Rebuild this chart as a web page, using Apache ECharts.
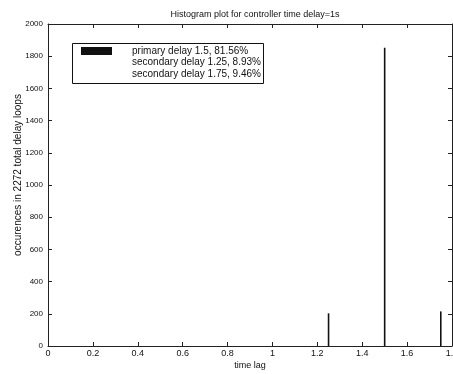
<!DOCTYPE html>
<html>
<head>
<meta charset="utf-8">
<script src="https://cdn.jsdelivr.net/npm/echarts@6/dist/echarts.min.js"></script>
<style>
  html, body { margin: 0; padding: 0; background: #fff; }
  #chart { width: 453px; height: 374px; }
</style>
</head>
<body>
<div id="chart"></div>
<script>
// Delay loop histogram: time lag (s) vs. number of occurrences
var timeLags = [1.25, 1.5, 1.75];
var occurrences = [203, 1853, 215];
var xTicks = [0, 0.2, 0.4, 0.6, 0.8, 1, 1.2, 1.4, 1.6, 1.8];
var yTicks = [0, 200, 400, 600, 800, 1000, 1200, 1400, 1600, 1800, 2000];
var legendLines = [
  'primary delay 1.5, 81.56%',
  'secondary delay 1.25, 8.93%',
  'secondary delay 1.75, 9.46%'
];

var FONT = '"Liberation Sans", Arial, Helvetica, sans-serif';
var chart = echarts.init(document.getElementById('chart'));

function plain(v) { return String(v); }

function xAxisDef(pos, showLabels) {
  return {
    type: 'value', position: pos,
    min: xTicks[0], max: xTicks[xTicks.length - 1], interval: 0.2,
    name: showLabels ? 'time lag' : '', nameLocation: 'middle', nameGap: 15,
    nameMoveOverlap: false,
    nameTextStyle: { fontFamily: FONT, fontSize: 9, color: '#111' },
    axisLine: { show: true, onZero: false, lineStyle: { color: '#222', width: 1 } },
    axisTick: { show: true, inside: true, length: 4, lineStyle: { color: '#222' } },
    axisLabel: { show: showLabels, formatter: plain, fontFamily: FONT, fontSize: 9, color: '#111', margin: 3 },
    splitLine: { show: false }
  };
}
function yAxisDef(pos, showLabels) {
  return {
    type: 'value', position: pos,
    min: yTicks[0], max: yTicks[yTicks.length - 1], interval: 200,
    name: showLabels ? 'occurences in 2272 total delay loops' : '',
    nameLocation: 'middle', nameGap: 25, nameRotate: 90,
    nameMoveOverlap: false,
    nameTextStyle: { fontFamily: FONT, fontSize: 10, color: '#111', padding: [0, 0, 0, 20] },
    axisLine: { show: true, onZero: false, lineStyle: { color: '#222', width: 1 } },
    axisTick: { show: true, inside: true, length: 4, lineStyle: { color: '#222' } },
    axisLabel: { show: showLabels, formatter: plain, fontFamily: FONT, fontSize: 8, color: '#111', margin: 5 },
    splitLine: { show: false }
  };
}

chart.setOption({
  animation: false,
  backgroundColor: '#fff',
  title: {
    text: 'Histogram plot for controller time delay=1s',
    left: 250, top: 5, textAlign: 'center',
    textStyle: { fontFamily: FONT, fontSize: 9, fontWeight: 'normal', color: '#111' }
  },
  grid: { left: 48, right: 1, top: 24, bottom: 28, containLabel: false, outerBoundsMode: 'none' },
  xAxis: [xAxisDef('bottom', true), xAxisDef('top', false)],
  yAxis: [yAxisDef('left', true), yAxisDef('right', false)],
  series: [{
    type: 'bar',
    xAxisIndex: 0, yAxisIndex: 0,
    barWidth: 1.6,
    itemStyle: { color: '#111' },
    data: timeLags.map(function (t, i) { return [t, occurrences[i]]; })
  }],
  graphic: [
    {
      type: 'rect', left: 72, top: 43,
      shape: { width: 191, height: 40 },
      style: { fill: '#fff', stroke: '#111', lineWidth: 1 }
    },
    {
      type: 'rect', left: 81, top: 47,
      shape: { width: 31, height: 8 },
      style: { fill: '#111' }
    },
    {
      type: 'text', left: 132, top: 45,
      style: {
        text: legendLines.join('\n'),
        fontFamily: FONT, fontSize: 10, lineHeight: 11.5, fill: '#111'
      }
    }
  ]
});
</script>
</body>
</html>
